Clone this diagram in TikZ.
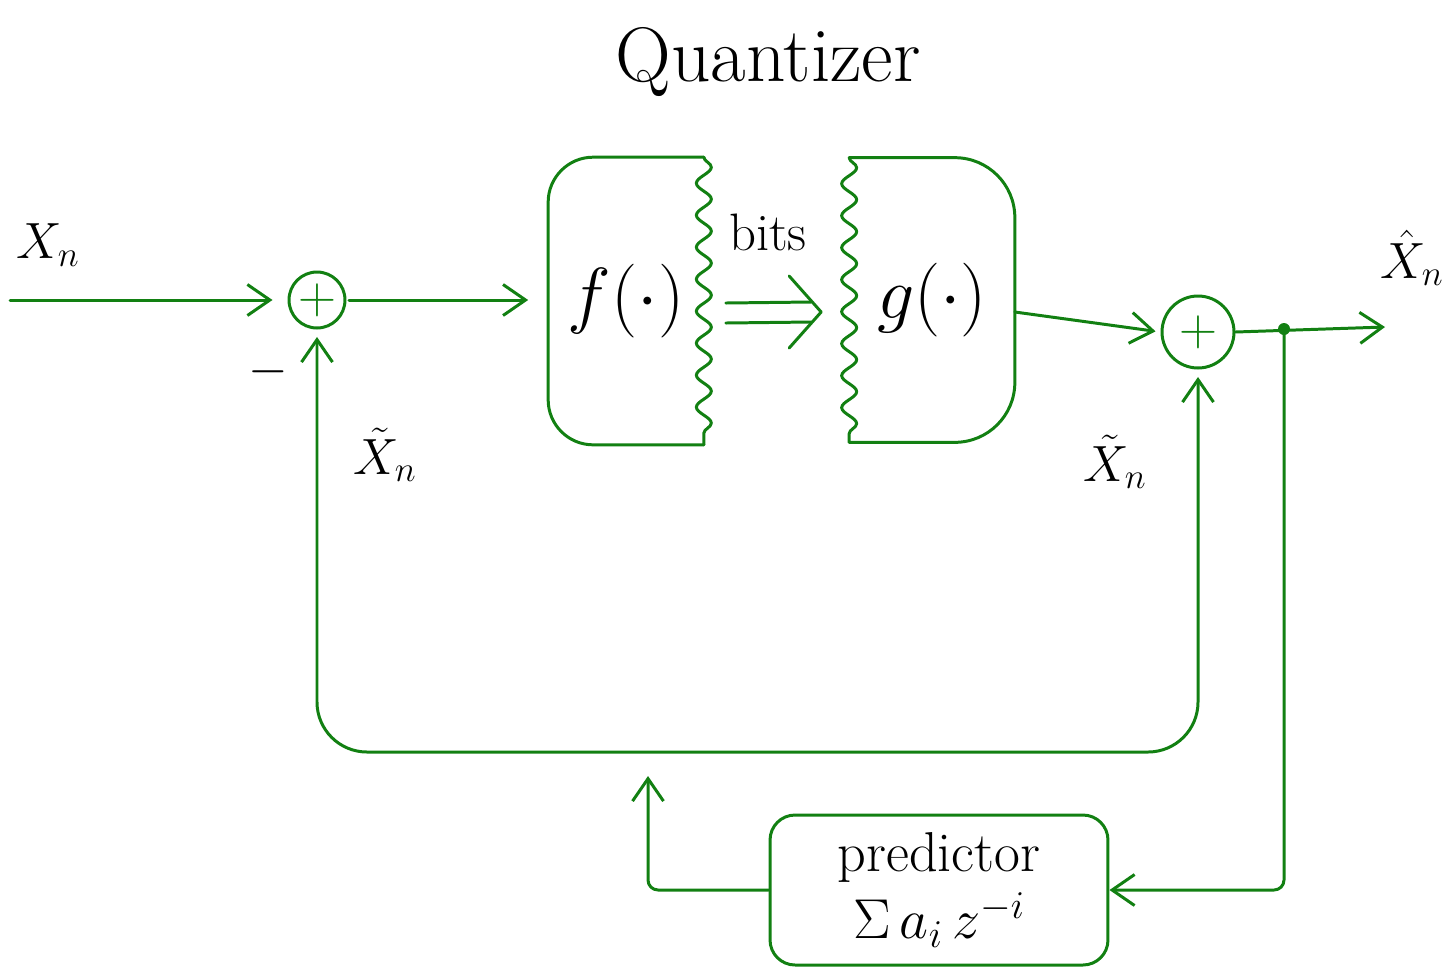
\RequirePackage{fix-cm}
\documentclass[tikz,border=0pt]{standalone}
\usetikzlibrary{arrows.meta,decorations.pathmorphing,calc}
\definecolor{wirec}{RGB}{18,128,18}

\begin{document}
\begin{tikzpicture}[x=0.02cm,y=-0.02cm,
  wire/.style={draw=wirec, line width=1.7pt, line cap=round, line join=round},
  barbtip/.tip={Straight Barb[length=0.45cm,width=0.62cm,line width=1.7pt]},
  arr/.style={wire, -{barbtip}},
  sumnode/.style={circle, draw=wirec, line width=1.7pt, inner sep=0pt},
  blockbox/.style={inner sep=0pt, minimum width=#1},
  wavy/.style={decorate, decoration={snake, amplitude=0.15cm, segment length=0.64cm}},
  lbl/.style={text=black, inner sep=0pt}]

\useasboundingbox (0,0) rectangle (1456,968);

% title
\node[lbl, font=\fontsize{44}{50}\selectfont] (title) at (768,62) {Quantizer};

% summing junctions
\node[sumnode, minimum size=1.12cm, text=wirec, font=\fontsize{30}{32}\selectfont] (sumL) at (317,300) {$+$};
\node[sumnode, minimum size=1.44cm, text=wirec, font=\fontsize{30}{32}\selectfont] (sumR) at (1198,332) {$+$};

% encoder f and decoder g
\node[blockbox=3.1cm, minimum height=5.74cm, font=\fontsize{42}{48}\selectfont] (fbox) at (626,301) {$f(\cdot)$};
\node[blockbox=3.3cm, minimum height=5.68cm, font=\fontsize{42}{48}\selectfont] (gbox) at (932,300) {$g(\cdot)$};

% encoder outline: rounded on the left, torn on the right
\draw[wire, rounded corners=0.9cm] (fbox.north east) -- (fbox.north west) -- (fbox.south west) -- (fbox.south east);
\draw[wire, wavy] (fbox.north east) -- (fbox.south east);
% decoder outline: torn on the left, rounded on the right
\draw[wire, rounded corners=1.2cm] (gbox.north west) -- (gbox.north east) -- (gbox.south east) -- (gbox.south west);
\draw[wire, wavy] (gbox.north west) -- (gbox.south west);

% predictor
\node[wire, rounded corners=0.5cm, minimum width=6.76cm, minimum height=3cm,
      align=center, text=black, font=\fontsize{32}{40}\selectfont] (pred) at (939,890)
      {predictor\\[-2pt]$\Sigma\, a_i\, z^{-i}$};

% signal points
\coordinate (xin) at (10,300);
\coordinate (xout) at (1385,327);
\coordinate (tap) at (1284,329);
\coordinate (loopy) at (0,752);
\coordinate (predup) at (648,776);

% forward path
\draw[arr, shorten >=0.3cm] (xin) -- (sumL.west);
\draw[arr, shorten <=0.05cm, shorten >=0.4cm] (sumL.east) -- (sumL.east -| fbox.west);
% bit stream: hollow double arrow between the two halves
\coordinate (bs) at ($(fbox.east)+(22,12)$);
\coordinate (be) at ($(gbox.west)+(-28,12)$);
\draw[wire] ($(bs)+(0,-10)$) -- ($(be)+(-10,-10)$);
\draw[wire] ($(bs)+(0,10)$) -- ($(be)+(-10,10)$);
\draw[wire] ($(be)+(-32,-36)$) -- (be) -- ($(be)+(-32,36)$);
\draw[arr, shorten >=0.1cm] ($(gbox.east)+(0,12)$) -- (sumR.west);
\draw[arr] (sumR.east) -- (xout);
\fill[wirec] (tap) circle (0.12cm);

% prediction feedback
\draw[arr, rounded corners=0.2cm] (tap) |- (pred.east);
\draw[arr, rounded corners=0.2cm] (pred.west) -| (predup);
\draw[wire, {barbtip}-{barbtip}, rounded corners=1cm, shorten <=0.15cm, shorten >=0.15cm]
  (sumL.south) -- (sumL.south |- loopy) -- (sumR.south |- loopy) -- (sumR.south);

% signal labels
\node[lbl, font=\fontsize{29}{34}\selectfont] (lxin) at (48,245) {$X_n$};
\node[lbl, font=\fontsize{29}{34}\selectfont] (lminus) at (268,372) {$-$};
\node[lbl, font=\fontsize{30}{36}\selectfont] (lbits) at (768,232) {bits};
\node[lbl, font=\fontsize{29}{34}\selectfont] (lxtl) at (385,455) {$\tilde{X}_n$};
\node[lbl, font=\fontsize{29}{34}\selectfont] (lxtr) at (1115,462) {$\tilde{X}_n$};
\node[lbl, font=\fontsize{29}{34}\selectfont] (lxhat) at (1412,258) {$\hat{X}_n$};
\end{tikzpicture}
\end{document}
